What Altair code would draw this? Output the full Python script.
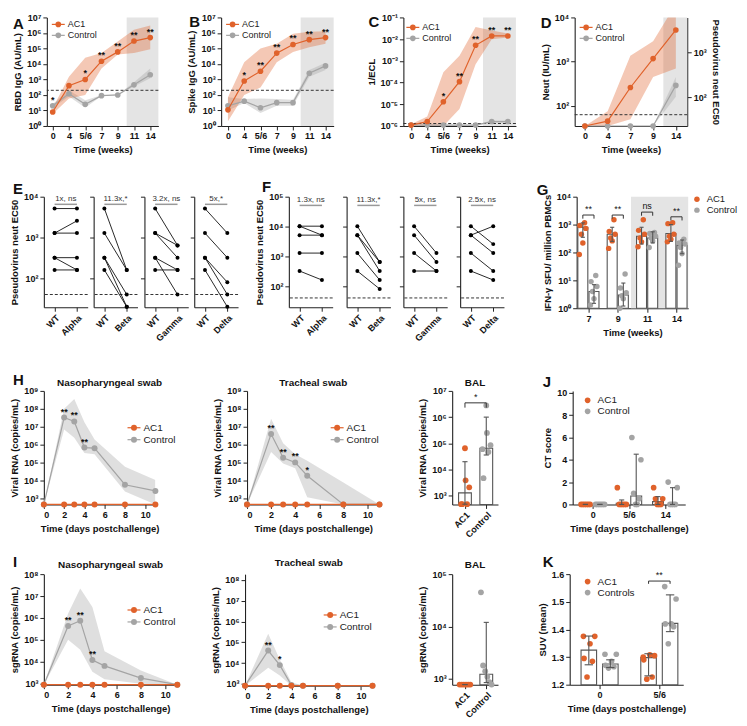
import altair as alt
import pandas as pd

FONT = "Liberation Sans"
ORANGE = "#E0622B"
GRAY = "#A4A4A4"
SHADE = "#E4E4E4"
INK = "#222222"
BARC = "#555555"
FX, FY = 0.97, 0.965

SUP = ("'10' + (datum.value < 0.5 ? '⁻' : '') + substring('⁰¹²³⁴⁵⁶⁷⁸⁹', "
       "abs(round(log(datum.value) / LN10)), abs(round(log(datum.value) / LN10)) + 1)")

# ---------------- data ----------------
WEEKS_ABC = ["0", "4", "5/6", "7", "9", "11", "14"]
A_AC1 = [8, 400, 1000, 15000, 60000, 300000, 500000]
A_AC1_LO = [6, 60, 100, 5000, 40000, 50000, 90000]
A_AC1_HI = [14, 1500, 25000, 50000, 280000, 1600000, 3000000]
A_CTL = [20, 120, 25, 90, 100, 450, 2000]
A_CTL_LO = [15, 80, 15, 85, 95, 350, 1200]
A_CTL_HI = [26, 200, 45, 95, 105, 650, 5000]
A_STARS = ["*", "", "*", "**", "**", "**", "**"]

B_AC1 = [11, 800, 3400, 50000, 180000, 370000, 500000]
B_AC1_LO = [2, 100, 300, 13000, 60000, 120000, 200000]
B_AC1_HI = [70, 13000, 100000, 200000, 900000, 1200000, 1300000]
B_CTL = [20, 40, 15, 32, 32, 2500, 7500]
B_CTL_LO = [10, 30, 7, 20, 20, 1500, 4000]
B_CTL_HI = [70, 55, 60, 55, 50, 4000, 12000]
B_STARS = ["", "*", "**", "**", "**", "**", "**"]

C_AC1 = [1.1e-6, 1.6e-6, 1.3e-5, 1.1e-4, 5.2e-3, 1.4e-2, 1.4e-2]
C_AC1_LO = [1.0e-6, 1.0e-6, 1.0e-6, 6e-6, 7e-4, 1e-2, 1.2e-2]
C_AC1_HI = [1.2e-6, 2.7e-6, 3e-4, 1.7e-3, 3.6e-2, 2.5e-2, 1.8e-2]
C_CTL = [1.1e-6, 1.1e-6, 1.1e-6, 1.1e-6, 1.1e-6, 1.6e-6, 1.6e-6]
C_CTL_LO = [1.05e-6, 1.05e-6, 1.05e-6, 1.05e-6, 1.05e-6, 1.45e-6, 1.45e-6]
C_CTL_HI = [1.15e-6, 1.15e-6, 1.15e-6, 1.15e-6, 1.15e-6, 1.8e-6, 1.8e-6]
C_STARS = ["", "", "*", "**", "**", "**", "**"]

WEEKS_D = ["0", "4", "7", "9", "14"]
D_AC1 = [35, 45, 260, 1170, 5200]
D_AC1_LO = [35, 35, 50, 450, 700]
D_AC1_HI = [35, 75, 1350, 2900, 20000]
D_CTL = [35, 35, 35, 35, 290]
D_CTL_LO = [35, 35, 35, 35, 160]
D_CTL_HI = [35, 35, 35, 35, 450]
D_STARS = ["", "", "", "", ""]

E_VARIANTS = ["Alpha", "Beta", "Gamma", "Delta"]
E_WT = [[5120, 1280, 1280, 320, 320, 160], [5120, 1280, 320, 320, 160],
        [5120, 1280, 1280, 320, 320, 160], [5120, 1280, 320, 320, 160]]
E_VAR = [[5120, 2560, 1280, 320, 160, 160], [160, 160, 40, 20, 20],
         [640, 640, 320, 160, 40, 160], [1280, 320, 80, 40, 20]]
E_LABELS = ["1x, ns", "11.3x,*", "3.2x, ns", "5x,*"]
F_WT = [[10240, 10240, 5120, 1280, 320], [10240, 5120, 5120, 1280, 320],
        [10240, 5120, 1280, 320], [10240, 5120, 5120, 1280, 320]]
F_VAR = [[10240, 5120, 5120, 1280, 160], [640, 640, 320, 160, 80],
         [1280, 640, 320, 320], [2560, 10240, 1280, 320, 160]]
F_LABELS = ["1.3x, ns", "11.3x,*", "5x, ns", "2.5x, ns"]

G_WEEKS = ["7", "9", "11", "14"]
G_AC1 = [[1170, 920, 730, 450, 220, 85], [1500, 570, 450, 330, 260, 140],
         [1500, 620, 450, 330, 240, 160], [1170, 1080, 450, 380, 300, 240]]
G_CTL = [[15, 9, 6, 4, 2.2, 1.3], [17, 5.3, 3.6, 2.8, 2.2, 1.0],
         [520, 480, 380, 330, 260, 150], [300, 220, 200, 150, 90, 35]]
G_AC1_M = [800, 450, 380, 480]
G_AC1_LO = [350, 250, 200, 250]
G_AC1_HI = [1150, 800, 800, 1000]
G_CTL_M = [4, 3, 330, 180]
G_CTL_LO = [1.5, 1.2, 220, 90]
G_CTL_HI = [7, 8, 550, 280]
G_SIG = ["**", "**", "ns", "**"]
G_SIG_Y = [2200, 2200, 2800, 1900]

DAYS = [0, 2, 3, 4, 5, 8, 11]
HN_AC1 = [480, 480, 480, 480, 480, 480, 480]
HN_CTL = [480, 3.3e7, 2.0e7, 7.0e5, 6.5e5, 6.0e3, 2.7e3]
HN_LO = [480, 7.0e6, 2.5e6, 3.5e5, 3.0e5, 2.5e3, 480]
HN_HI = [480, 1.0e8, 3.5e8, 1.8e7, 2.0e6, 6.0e4, 1.1e4]
HN_STARS = ["", "**", "**", "**", "", "", ""]
HT_AC1 = [480, 480, 480, 480, 480, 480, 480]
HT_CTL = [480, 4.0e6, 1.9e5, 1.05e5, 1.9e4, 480, 480]
HT_LO = [480, 4.0e5, 9.0e4, 5.0e4, 1.2e3, 480, 480]
HT_HI = [480, 2.8e7, 1.2e6, 3.0e5, 1.3e5, 8.0e3, 480]
HT_STARS = ["", "**", "**", "**", "*", "", ""]
IN_AC1 = [900, 900, 900, 900, 900, 900, 900]
IN_CTL = [900, 4.3e5, 7.5e5, 1.2e4, 6.5e3, 1.8e3, 900]
IN_LO = [900, 1.0e5, 3.5e4, 3.5e3, 1.6e3, 1.0e3, 900]
IN_HI = [900, 1.6e6, 2.2e7, 3.2e6, 3.0e4, 4.0e3, 900]
IN_STARS = ["", "**", "**", "**", "", "", ""]
IT_AC1 = [820, 820, 820, 820, 820, 820, 820]
IT_CTL = [820, 4.0e4, 8.0e3, 880, 820, 820, 820]
IT_LO = [820, 6.0e3, 2.5e3, 820, 820, 820, 820]
IT_HI = [820, 2.6e5, 1.5e4, 1.2e3, 820, 820, 820]
IT_STARS = ["", "**", "*", "", "", "", ""]

BAL_GROUPS = ["AC1", "Control"]
HB_AC1 = [65000, 3900, 2100, 480, 480, 480]
HB_CTL = [2.8e6, 2.5e5, 8.5e4, 6.0e4, 4.7e4, 4700]
HB_M = [1300, 65000]
HB_LO = [480, 36000]
HB_HI = [20000, 1.0e6]
IB_AC1 = [780, 780, 780, 780, 780, 780]
IB_CTL = [45000, 1800, 1400, 1100, 870, 780]
IB_M = [780, 1230]
IB_LO = [780, 850]
IB_HI = [780, 12000]

J_CATS = ["0", "5/6", "14"]
J_AC1 = [[0, 0, 0, 0, 0, 0], [1.5, 0, 0, 0, 0, 0], [1.5, 0.5, 0.5, 0, 0, 0]]
J_CTL = [[0, 0, 0, 0, 0, 0], [6, 4, 1, 0.5, 0, 0], [2, 1.5, 0, 0, 0, 0]]
J_AC1_M = [0, 0.1, 0.25]
J_AC1_LO = [0, 0, 0]
J_AC1_HI = [0, 0.4, 0.7]
J_CTL_M = [0, 0.75, 0]
J_CTL_LO = [0, 0, 0]
J_CTL_HI = [0, 4.5, 1.5]

K_CATS = ["0", "5/6"]
K_AC1 = [[1.375, 1.375, 1.348, 1.295, 1.285, 1.228], [1.300, 1.305, 1.308, 1.290, 1.228, 1.220]]
K_CTL = [[1.310, 1.310, 1.285, 1.270, 1.265, 1.260], [1.555, 1.510, 1.420, 1.420, 1.410, 1.348]]
K_AC1_M = [1.325, 1.298]
K_AC1_LO = [1.272, 1.232]
K_AC1_HI = [1.376, 1.312]
K_CTL_M = [1.275, 1.422]
K_CTL_LO = [1.262, 1.392]
K_CTL_HI = [1.290, 1.525]


def W(v):
    return max(1, int(round(v * FX)))


def Hh(v):
    return max(1, int(round(v * FY)))


ONE = pd.DataFrame({"s": [0]})


def letter_layer(ch, dx, dy):
    return alt.Chart(pd.DataFrame({"t": [ch]})).mark_text(
        align="left", baseline="alphabetic", font=FONT, fontSize=15,
        fontWeight="bold", color="#111").encode(
        text="t:N", x=alt.value(dx), y=alt.value(dy))


def title_layer(text, w, dy, dx=0):
    return alt.Chart(pd.DataFrame({"t": [text]})).mark_text(
        align="center", baseline="middle", font=FONT, fontSize=10,
        fontWeight="bold", color="#111").encode(
        text="t:N", x=alt.value(W(w) / 2 + dx), y=alt.value(dy))


def line_legend(lx, ly, row_h, font_size, dot):
    # legend key: short coloured line with a dot, followed by the group name
    out = []
    for i, (g, col) in enumerate([("AC1", ORANGE), ("Control", GRAY)]):
        yc = ly + row_h * (i + 0.5)
        out.append(alt.Chart(ONE).mark_rule(color=col, strokeWidth=1.2).encode(
            x=alt.value(lx), x2=alt.value(lx + 13), y=alt.value(yc)))
        out.append(alt.Chart(ONE).mark_point(filled=True, size=dot, opacity=1, color=col).encode(
            x=alt.value(lx + 6.5), y=alt.value(yc)))
        out.append(alt.Chart(pd.DataFrame({"t": [g]})).mark_text(
            align="left", baseline="middle", font=FONT, fontSize=font_size, color="#222").encode(
            x=alt.value(lx + 16), y=alt.value(yc), text="t:N"))
    return out


def line_panel(xs, xdom, xaxis, series, stars, ydom, yvals, ytitle, w, h,
               thresh=None, shade_from=None, legend_xy=(5, 2), clip_h=11, leg_font=9,
               dot=32, title=None, letter=None, letter_xy=(0, 0), right_axis=None):
    cs = alt.Scale(domain=["AC1", "Control"], range=[ORANGE, GRAY])
    xs_ = alt.Scale(domain=xdom, nice=False, zero=False)
    ys_ = alt.Scale(type="log", domain=ydom, nice=False)
    yax = alt.Axis(values=yvals, labelExpr=SUP, title=ytitle)

    def X(f):
        return alt.X(f"{f}:Q", scale=xs_, axis=xaxis)

    def Y(f):
        return alt.Y(f"{f}:Q", scale=ys_, axis=yax)

    frames = {g: pd.DataFrame({"x": xs, "group": g, "m": s[0], "lo": s[1], "hi": s[2]})
              for g, s in series.items()}
    layers = []
    if shade_from is not None:
        layers.append(alt.Chart(pd.DataFrame({"a": [shade_from], "b": [xdom[1]]}))
                      .mark_rect(color=SHADE).encode(x=X("a"), x2="b:Q"))
    for g in ["Control", "AC1"]:
        layers.append(alt.Chart(frames[g]).mark_area(opacity=0.35, clip=True).encode(
            x=X("x"), y=Y("lo"), y2="hi:Q", fill=alt.Fill("group:N", scale=cs, legend=None)))
    if thresh is not None:
        layers.append(alt.Chart(pd.DataFrame({"t": [thresh]})).mark_rule(
            strokeDash=[3, 2], color="#333", strokeWidth=1).encode(y=Y("t")))
    for g in ["Control", "AC1"]:
        layers.append(alt.Chart(frames[g]).mark_line(strokeWidth=1.2).encode(
            x=X("x"), y=Y("m"), color=alt.Color("group:N", scale=cs, legend=None)))
        layers.append(alt.Chart(frames[g]).mark_point(filled=True, size=dot, opacity=1).encode(
            x=X("x"), y=Y("m"), color=alt.Color("group:N", scale=cs, legend=None)))
    top = [max(a, c) for a, c in zip(series["AC1"][0], series["Control"][0])]
    layers.append(alt.Chart(pd.DataFrame({"x": xs, "y": top, "s": stars})).mark_text(
        baseline="bottom", dy=-1, font=FONT, fontSize=9, fontWeight="bold", color="#111").encode(
        x=X("x"), y=Y("y"), text="s:N"))
    layers += line_legend(legend_xy[0], legend_xy[1], clip_h, leg_font, dot)
    if letter:
        layers.append(letter_layer(letter, *letter_xy))
    if title:
        layers.append(title_layer(title[0], w, title[1], title[2] if len(title) > 2 else 0))
    ch = alt.layer(*layers)
    if right_axis is not None:
        rdom, rvals, rtitle = right_axis
        r = alt.Chart(pd.DataFrame({"v": [rvals[0]]})).mark_point(opacity=0).encode(
            y=alt.Y("v:Q", scale=alt.Scale(type="log", domain=rdom, nice=False),
                    axis=alt.Axis(orient="right", values=rvals, labelExpr=SUP, title=rtitle)))
        ch = alt.layer(ch, r).resolve_scale(y="independent")
    return ch.properties(width=W(w), height=Hh(h))


def pair_panel(variant, wt, var, label, ydom, yvals, bracket_y, thresh, w, h, first,
               ytitle=None, letter=None, letter_xy=(0, 0)):
    rows = []
    for k, (a, b) in enumerate(zip(wt, var)):
        rows.append(dict(animal=k, x=0, v=a))
        rows.append(dict(animal=k, x=1, v=b))
    df = pd.DataFrame(rows)
    xs_ = alt.Scale(domain=[-0.48, 1.48], nice=False, zero=False)
    xax = alt.Axis(values=[0, 1], labelExpr=f"['WT', '{variant}'][datum.value]",
                   labelAngle=-45, title=None)
    ys_ = alt.Scale(type="log", domain=ydom, nice=False)
    if first:
        yax = alt.Axis(values=yvals, labelExpr=SUP, title=ytitle)
    else:
        yax = alt.Axis(values=yvals, labels=False, title=None)

    def X(f):
        return alt.X(f"{f}:Q", scale=xs_, axis=xax)

    def Y(f):
        return alt.Y(f"{f}:Q", scale=ys_, axis=yax)

    layers = [
        alt.Chart(pd.DataFrame({"t": [thresh]})).mark_rule(
            strokeDash=[3, 2], color="#333", strokeWidth=1).encode(y=Y("t")),
        alt.Chart(df).mark_line(color="#111", strokeWidth=0.9).encode(
            x=X("x"), y=Y("v"), detail="animal:N"),
        alt.Chart(df).mark_circle(color="#000", size=16, opacity=1).encode(x=X("x"), y=Y("v")),
        alt.Chart(pd.DataFrame({"a": [0], "b": [1], "y": [bracket_y]})).mark_rule(
            color="#999", strokeWidth=1.5).encode(x=X("a"), x2="b:Q", y=Y("y")),
        alt.Chart(pd.DataFrame({"x": [0.5], "y": [bracket_y], "t": [label]})).mark_text(
            baseline="bottom", dy=-1, font=FONT, fontSize=8, color="#333").encode(
            x=X("x"), y=Y("y"), text="t:N"),
    ]
    if letter:
        layers.append(letter_layer(letter, *letter_xy))
    return alt.layer(*layers).properties(width=W(w), height=Hh(h))


def group_panel(centers, pts, means, los, his, names, ydom, yvals, ytitle, xdom, xlabels,
                xtitle, w, h, bhw, jit, log=False, yfmt=None, label_angle=0, shade_from=None,
                brackets=(), legend_xy=None, dot=30, letter=None, letter_xy=(0, 0),
                title=None, capw=0.07, leg_font=10):
    cs = alt.Scale(domain=list(names), range=[ORANGE, GRAY])
    xs_ = alt.Scale(domain=xdom, nice=False, zero=False)
    xax = alt.Axis(values=list(range(len(xlabels))), labelExpr=f"{xlabels}[datum.value]",
                   title=xtitle, labelAngle=label_angle)
    if log:
        ys_ = alt.Scale(type="log", domain=ydom, nice=False)
        yax = alt.Axis(values=yvals, labelExpr=SUP, title=ytitle)
    else:
        ys_ = alt.Scale(domain=ydom, nice=False, zero=False)
        if yfmt:
            yax = alt.Axis(values=yvals, title=ytitle, format=yfmt)
        else:
            yax = alt.Axis(values=yvals, title=ytitle)

    def X(f):
        return alt.X(f"{f}:Q", scale=xs_, axis=xax)

    def Y(f):
        return alt.Y(f"{f}:Q", scale=ys_, axis=yax)

    prow, brow = [], []
    for gi, g in enumerate(names):
        for ci, c in enumerate(centers[gi]):
            for k, v in enumerate(pts[gi][ci]):
                prow.append(dict(x=c + jit[k % len(jit)], v=v, group=g))
            brow.append(dict(x1=c - bhw, x2=c + bhw, xc=c, c1=c - capw, c2=c + capw,
                             m=means[gi][ci], lo=los[gi][ci], hi=his[gi][ci], base=ydom[0]))
    pdf, bdf = pd.DataFrame(prow), pd.DataFrame(brow)
    layers = []
    if shade_from is not None:
        layers.append(alt.Chart(pd.DataFrame({"a": [shade_from], "b": [xdom[1]]}))
                      .mark_rect(color=SHADE).encode(x=X("a"), x2="b:Q"))
    layers.append(alt.Chart(bdf).mark_bar(fill="white", stroke=BARC, strokeWidth=1.1).encode(
        x=X("x1"), x2="x2:Q", y=Y("m"), y2="base:Q"))
    if legend_xy is not None:
        leg = alt.Legend(title=None, orient="none", legendX=legend_xy[0], legendY=legend_xy[1],
                         symbolType="circle", symbolSize=dot, clipHeight=11,
                         labelFontSize=leg_font, labelOffset=5)
    else:
        leg = None
    layers.append(alt.Chart(pdf).mark_circle(size=dot, opacity=1).encode(
        x=X("x"), y=Y("v"), color=alt.Color("group:N", scale=cs, legend=leg)))
    layers.append(alt.Chart(bdf).mark_rule(color=BARC, strokeWidth=1.1).encode(
        x=X("xc"), y=Y("lo"), y2="hi:Q"))
    layers.append(alt.Chart(bdf).mark_rule(color=BARC, strokeWidth=1.1).encode(
        x=X("c1"), x2="c2:Q", y=Y("hi")))
    layers.append(alt.Chart(bdf).mark_rule(color=BARC, strokeWidth=1.1).encode(
        x=X("c1"), x2="c2:Q", y=Y("lo")))
    if brackets:
        hb = pd.DataFrame([dict(a=b[0], b=b[1], y=b[2]) for b in brackets])
        vb = pd.DataFrame([dict(x=xx, y=b[2], yt=b[3]) for b in brackets for xx in (b[0], b[1])])
        tb = pd.DataFrame([dict(x=(b[0] + b[1]) / 2, y=b[2], t=b[4]) for b in brackets])
        layers.append(alt.Chart(hb).mark_rule(color="#333", strokeWidth=1).encode(
            x=X("a"), x2="b:Q", y=Y("y")))
        layers.append(alt.Chart(vb).mark_rule(color="#333", strokeWidth=1).encode(
            x=X("x"), y=Y("yt"), y2="y:Q"))
        layers.append(alt.Chart(tb).mark_text(baseline="bottom", dy=-1, font=FONT, fontSize=9,
                                              color="#111").encode(
            x=X("x"), y=Y("y"), text="t:N"))
    if letter:
        layers.append(letter_layer(letter, *letter_xy))
    if title:
        layers.append(title_layer(title[0], w, title[1]))
    return alt.layer(*layers).properties(width=W(w), height=Hh(h))


def spacer(w, h):
    return alt.Chart(ONE).mark_point(opacity=0).encode(
        x=alt.X("s:Q", axis=None), y=alt.Y("s:Q", axis=None)).properties(
        width=max(int(w), 1), height=max(int(h), 1))


L_EDGE = 30


def lead_spacer(w, top, bottom):
    # invisible guide that fixes each row's outer extent for the vertical stacking
    sp = alt.Chart(ONE).mark_point(opacity=0).encode(
        x=alt.X("s:Q", axis=None), y=alt.Y("s:Q", axis=None))
    mk = alt.Chart(ONE).mark_rule(color="white", strokeWidth=0.5).encode(
        x=alt.value(-L_EDGE), y=alt.value(-top), y2=alt.value(bottom))
    return alt.layer(sp, mk).properties(width=max(int(w), 1), height=1)


# ---------------- panels ----------------
def DEC(a, b):
    return [10.0 ** k for k in range(a, b + 1)]


xax7 = alt.Axis(values=list(range(7)), labelExpr=f"{WEEKS_ABC}[datum.value]", title="Time (weeks)")
xax5 = alt.Axis(values=list(range(5)), labelExpr=f"{WEEKS_D}[datum.value]", title="Time (weeks)")
I7 = list(range(7))

pA = line_panel(I7, [-0.36, 6.5], xax7,
                {"AC1": (A_AC1, A_AC1_LO, A_AC1_HI), "Control": (A_CTL, A_CTL_LO, A_CTL_HI)},
                A_STARS, [1, 1e7], DEC(0, 7), "RBD IgG (AU/mL)", 115, 113, thresh=200,
                shade_from=4.55, legend_xy=(5, 1.5), letter="A", letter_xy=(-34, 12))
pB = line_panel(I7, [-0.42, 6.5], xax7,
                {"AC1": (B_AC1, B_AC1_LO, B_AC1_HI), "Control": (B_CTL, B_CTL_LO, B_CTL_HI)},
                B_STARS, [1, 1e7], DEC(0, 7), "Spike IgG (AU/mL)", 116, 113, thresh=200,
                shade_from=4.47, legend_xy=(5, 1.5), letter="B", letter_xy=(-32, 10))
pC = line_panel(I7, [-0.48, 6.5], xax7,
                {"AC1": (C_AC1, C_AC1_LO, C_AC1_HI), "Control": (C_CTL, C_CTL_LO, C_CTL_HI)},
                C_STARS, [1e-6, 1e-1], [10.0 ** -k for k in range(6, 0, -1)], "1/ECL", 117, 113,
                thresh=1.3e-6, shade_from=4.46, legend_xy=(3, 4.5), letter="C",
                letter_xy=(-35, 10))
pD = line_panel(list(range(5)), [-0.45, 4.5], xax5,
                {"AC1": (D_AC1, D_AC1_LO, D_AC1_HI), "Control": (D_CTL, D_CTL_LO, D_CTL_HI)},
                D_STARS, [35, 1e4], DEC(2, 4), "Neut (IU/mL)", 116, 113, thresh=63,
                shade_from=3.45, legend_xy=(5, 4.5), letter="D", letter_xy=(-34, 11),
                right_axis=([23, 5900], [100, 1000], "Pseudovirus neut EC50"))

e_subs, f_subs = [], []
for k in range(4):
    e_subs.append(pair_panel(E_VARIANTS[k], E_WT[k], E_VAR[k], E_LABELS[k], [19.5, 1e4],
                             DEC(2, 4), 6500, 40, 45, 115, k == 0, "Pseudovirus neut EC50",
                             "E" if k == 0 else None, (-31, -3)))
    f_subs.append(pair_panel(E_VARIANTS[k], F_WT[k], F_VAR[k], F_LABELS[k], [19.5, 1e5],
                             DEC(2, 5), 51000, 40, 45, 115, k == 0, "Pseudovirus neut EC50",
                             "F" if k == 0 else None, (-27, -5)))

GOFF = 0.19
pG = group_panel([[i - GOFF for i in range(4)], [i + GOFF for i in range(4)]],
                 [G_AC1, G_CTL], [G_AC1_M, G_CTL_M], [G_AC1_LO, G_CTL_LO],
                 [G_AC1_HI, G_CTL_HI], ["AC1", "Control"], [1, 1e4], DEC(0, 4),
                 "IFN-γ SFU/ million PBMCs", [-0.4, 3.4], G_WEEKS, "Time (weeks)", 115, 116,
                 0.17, [0.06, -0.1, 0.1, -0.05, 0.0, -0.12, 0.12], log=True, shade_from=1.45,
                 brackets=[(i - GOFF, i + GOFF, G_SIG_Y[i], G_SIG_Y[i] / 1.35, G_SIG[i])
                           for i in range(4)],
                 legend_xy=(116, -3), dot=30, letter="G", letter_xy=(-40, -2), leg_font=9.5)

xaxd = alt.Axis(values=[0, 2, 4, 6, 8, 10], title="Time (days postchallenge)")
pHn = line_panel(DAYS, [0, 11], xaxd,
                 {"AC1": (HN_AC1, HN_AC1, HN_AC1), "Control": (HN_CTL, HN_LO, HN_HI)},
                 HN_STARS, [480, 1e9], DEC(3, 9), "Viral RNA (copies/mL)", 115, 118,
                 legend_xy=(84, 31), clip_h=12, leg_font=10, dot=36,
                 title=("Nasopharyngeal swab", -8, 10), letter="H", letter_xy=(-31, -6))
pHt = line_panel(DAYS, [0, 11], xaxd,
                 {"AC1": (HT_AC1, HT_AC1, HT_AC1), "Control": (HT_CTL, HT_LO, HT_HI)},
                 HT_STARS, [480, 1e9], DEC(3, 9), "Viral RNA (copies/mL)", 137, 118,
                 legend_xy=(84, 31), clip_h=12, leg_font=10, dot=36,
                 title=("Tracheal swab", -8))
pHb = group_panel([[0], [1]], [[HB_AC1], [HB_CTL]], [[HB_M[0]], [HB_M[1]]],
                  [[HB_LO[0]], [HB_LO[1]]], [[HB_HI[0]], [HB_HI[1]]], BAL_GROUPS,
                  [470, 1e7], DEC(3, 7), "Viral RNA (copies/mL)", [-0.6, 1.55], BAL_GROUPS,
                  None, 47, 118, 0.3, [0.0, 0.03, 0.2, -0.18, 0.1, -0.13], log=True,
                  label_angle=-45, brackets=[(0, 1, 3.5e6, 2.3e6, "*")], dot=34,
                  title=("BAL", -8), capw=0.12)
pJ = group_panel([[i - 0.2 for i in range(3)], [i + 0.2 for i in range(3)]],
                 [J_AC1, J_CTL], [J_AC1_M, J_CTL_M], [J_AC1_LO, J_CTL_LO],
                 [J_AC1_HI, J_CTL_HI], ["AC1", "Control"], [0, 10.17], [0, 2, 4, 6, 8, 10],
                 "CT score", [-0.55, 2.55], J_CATS, "Time (days postchallenge)", 117, 118,
                 0.15, [-0.12, 0.13, -0.07, 0.08, -0.02, 0.03], legend_xy=(10, 4), dot=32,
                 letter="J", letter_xy=(-30, -4))

pIn = line_panel(DAYS, [0, 11], xaxd,
                 {"AC1": (IN_AC1, IN_AC1, IN_AC1), "Control": (IN_CTL, IN_LO, IN_HI)},
                 IN_STARS, [900, 1e8], DEC(3, 8), "sgRNA (copies/mL)", 138, 115,
                 legend_xy=(84, 30), clip_h=12, leg_font=10, dot=36,
                 title=("Nasopharyngeal swab", -9), letter="I", letter_xy=(-31, -7))
pIt = line_panel(DAYS, [0, 11], xaxd,
                 {"AC1": (IT_AC1, IT_AC1, IT_AC1), "Control": (IT_CTL, IT_LO, IT_HI)},
                 IT_STARS, [820, 1.9e8], DEC(3, 8), "sgRNA (copies/mL)", 132, 116,
                 legend_xy=(79, 35), clip_h=12, leg_font=10, dot=36,
                 title=("Tracheal swab", -11))
pIb = group_panel([[0], [1]], [[IB_AC1], [IB_CTL]], [[IB_M[0]], [IB_M[1]]],
                  [[IB_LO[0]], [IB_LO[1]]], [[IB_HI[0]], [IB_HI[1]]], BAL_GROUPS,
                  [775, 1e5], DEC(3, 5), "sgRNA (copies/mL)", [-0.6, 1.55], BAL_GROUPS,
                  None, 47, 115, 0.3, [-0.25, -0.15, -0.05, 0.05, 0.15, 0.25], log=True,
                  label_angle=-45, dot=34, title=("BAL", -9), capw=0.12)
pK = group_panel([[i - 0.18 for i in range(2)], [i + 0.18 for i in range(2)]],
                 [K_AC1, K_CTL], [K_AC1_M, K_CTL_M], [K_AC1_LO, K_CTL_LO],
                 [K_AC1_HI, K_CTL_HI], ["AC1", "Controls"], [1.2, 1.6],
                 [1.2, 1.3, 1.4, 1.5, 1.6], "SUV (mean)", [-0.5, 1.4], K_CATS,
                 "Time (days postchallenge)", 118, 115, 0.13,
                 [-0.09, 0.1, 0.02, -0.08, 0.06, -0.03], yfmt=".1f",
                 brackets=[(1 - 0.18, 1 + 0.18, 1.575, 1.565, "**")], legend_xy=(13, 2),
                 dot=32, letter="K", letter_xy=(-27, -7))

# ---------------- layout ----------------
X0 = 30
ROW1 = [(pA, 36, 115, 113), (pB, 217, 116, 113), (pC, 405, 117, 113), (pD, 583, 116, 113)]
ROW2 = [(e_subs[0], 33, 45, 115), (e_subs[1], 85, 45, 115), (e_subs[2], 137, 45, 115),
        (e_subs[3], 189, 45, 115), (f_subs[0], 287, 45, 115), (f_subs[1], 346, 45, 115),
        (f_subs[2], 405, 45, 115), (f_subs[3], 464, 45, 115), (pG, 585, 115, 116)]
ROW3 = [(pHn, 33, 115, 118), (pHt, 243, 137, 118), (pHb, 456, 47, 118), (pJ, 580, 117, 118)]
ROW4 = [(pIn, 33, 138, 115), (pIt, 241, 132, 116), (pIb, 456, 47, 115), (pK, 577, 118, 115)]

GAPS = [72, 84, 70]
TOPS = [6, 24, 24, 24]
IND = dict(color="independent", fill="independent", stroke="independent")


def build_row(items, top, bottom_extra):
    hrow = max(Hh(it[3]) for it in items)
    px0 = int(round((items[0][1] - X0) * FX))
    lead_w = max(px0, 1)
    bottom = hrow + bottom_extra if bottom_extra is not None else hrow
    out = [lead_spacer(lead_w, top, bottom)]
    cur = lead_w
    for ch, x, w, h in items:
        px = int(round((x - X0) * FX))
        if px - cur > 0:
            out.append(spacer(px - cur, 1))
        out.append(ch)
        cur = px + W(w)
    return alt.hconcat(*out, spacing=0, bounds="flush").resolve_scale(**IND).resolve_legend(**IND)


rows = []
for i, r in enumerate((ROW1, ROW2, ROW3, ROW4)):
    extra = Hh(GAPS[i]) - TOPS[i + 1] if i < 3 else None
    rows.append(build_row(r, TOPS[i], extra))

chart = alt.vconcat(*rows, spacing=0, padding=1).resolve_scale(**IND).resolve_legend(**IND)
chart = chart.configure(font=FONT).configure_view(stroke=None).configure_axis(
    grid=False, labelFont=FONT, titleFont=FONT, labelFontWeight="bold",
    titleFontWeight="bold", labelFontSize=9, titleFontSize=9.5, labelColor="#111",
    titleColor="#111", domainColor=INK, tickColor=INK, tickSize=4, labelPadding=2,
    titlePadding=4, domainWidth=1.1, tickWidth=1).configure_legend(
    labelFont=FONT, labelColor="#222", padding=0, rowPadding=0).configure_title(
    font=FONT, fontWeight="bold", fontSize=10, color="#111")

chart.save("out.html", embed_options={"renderer": "svg", "actions": False})
